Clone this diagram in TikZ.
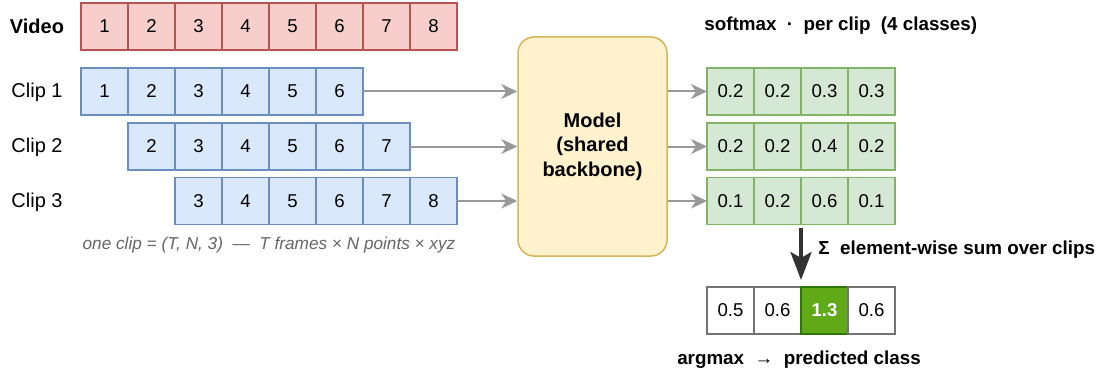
\documentclass[tikz,border=0pt]{standalone}
\usepackage{fontspec}
\setmainfont{Liberation Sans}
\usetikzlibrary{arrows.meta}

\definecolor{vidfill}{HTML}{F8CECC}
\definecolor{vidline}{HTML}{B85450}
\definecolor{clipfill}{HTML}{DAE8FC}
\definecolor{clipline}{HTML}{6C8EBF}
\definecolor{softfill}{HTML}{D5E8D4}
\definecolor{softline}{HTML}{82B366}
\definecolor{modfill}{HTML}{FFF2CC}
\definecolor{modline}{HTML}{D6B656}
\definecolor{winfill}{HTML}{60A917}
\definecolor{winline}{HTML}{2D7600}
\definecolor{feedgray}{HTML}{999999}

\begin{document}
\begin{tikzpicture}[x=0.5pt,y=-0.5pt,
    cell/.style={draw, line width=0.75pt, minimum width=23.5pt, minimum height=23.5pt,
      inner sep=0pt, outer sep=0pt, font=\fontsize{9.3}{10}\selectfont},
    vidcell/.style={cell, draw=vidline, fill=vidfill},
    clipcell/.style={cell, draw=clipline, fill=clipfill},
    softcell/.style={cell, draw=softline, fill=softfill},
    sumcell/.style={cell, draw=black!55, fill=white},
    wincell/.style={cell, draw=winline, fill=winfill, text=white, font=\fontsize{9.3}{10}\selectfont\bfseries},
    rowlabel/.style={font=\fontsize{10}{12}\selectfont},
    title/.style={font=\fontsize{9.4}{12}\selectfont\bfseries},
    feed/.style={-{Stealth[length=8pt,width=7.5pt,inset=2.5pt]}, draw=feedgray, line width=1pt},
    sumarrow/.style={-{Stealth[length=14pt,width=10.5pt,inset=3pt]}, draw=black!80, line width=2pt}
  ]

  \useasboundingbox (0,0) rectangle (1101,374);

  % Whole video, frames 1..8
  \node[rowlabel, font=\fontsize{10}{12}\selectfont\bfseries] (lvid) at (37,26.5) {Video};
  \foreach \i in {1,...,8}
    \node[vidcell] (v\i) at ({57.5+47*\i},26.5) {\i};

  % Three overlapping clips of 6 frames
  \foreach \k/\y in {1/91.5,2/146.5,3/201} {
    \node[rowlabel] (lclip\k) at (37,\y+1) {Clip \k};
    \foreach \i in {1,...,6} {
      \pgfmathtruncatemacro{\f}{\i+\k-1}
      \node[clipcell] (c\k-\i) at ({57.5+47*\f},\y) {\f};
    }
  }

  \node[font=\fontsize{8.6}{10}\selectfont\itshape, text=black!60] (shape) at (269,245)
    {one clip = (T, N, 3)\ \ —\ \ T frames × N points × xyz};

  % Shared model
  \node[draw=modline, fill=modfill, line width=0.75pt, rounded corners=8pt,
    minimum width=74.5pt, minimum height=109.5pt, align=center,
    font=\fontsize{10}{12.25}\selectfont\bfseries] (model) at (592.5,146.5)
    {Model\\(shared\\backbone)};

  % Softmax scores per clip
  \node[title, anchor=west, inner sep=0pt] (soft) at (704,26) {softmax\ \ ·\ \ per clip\ \ (4 classes)};
  \foreach \k/\y/\vals in {1/91.5/{0.2,0.2,0.3,0.3},2/146.5/{0.2,0.2,0.4,0.2},3/201/{0.1,0.2,0.6,0.1}} {
    \foreach \v [count=\j] in \vals
      \node[softcell] (s\k-\j) at ({683.5+47*\j},\y) {\v};
  }

  % Arrows into and out of the model
  \foreach \k in {1,2,3} {
    \draw[feed] (c\k-6.east) -- (model.west |- c\k-6.east);
    \draw[feed] (model.east |- s\k-1.west) -- (s\k-1.west);
  }

  % Summed scores
  \foreach \v/\st [count=\j] in {0.5/sumcell,0.6/sumcell,1.3/wincell,0.6/sumcell}
    \node[\st] (r\j) at ({683.5+47*\j},310.5) {\v};
  \draw[sumarrow] ([yshift=-1.5pt]s3-2.south east) -- ([yshift=3.5pt]r2.north east);
  \node[title, anchor=west, inner sep=0pt] (sumlbl) at (818,250) {Σ\ \ element-wise sum over clips};
  \node[title] (argmax) at (799,360) {argmax\ \ →\ \ predicted class};

\end{tikzpicture}
\end{document}
